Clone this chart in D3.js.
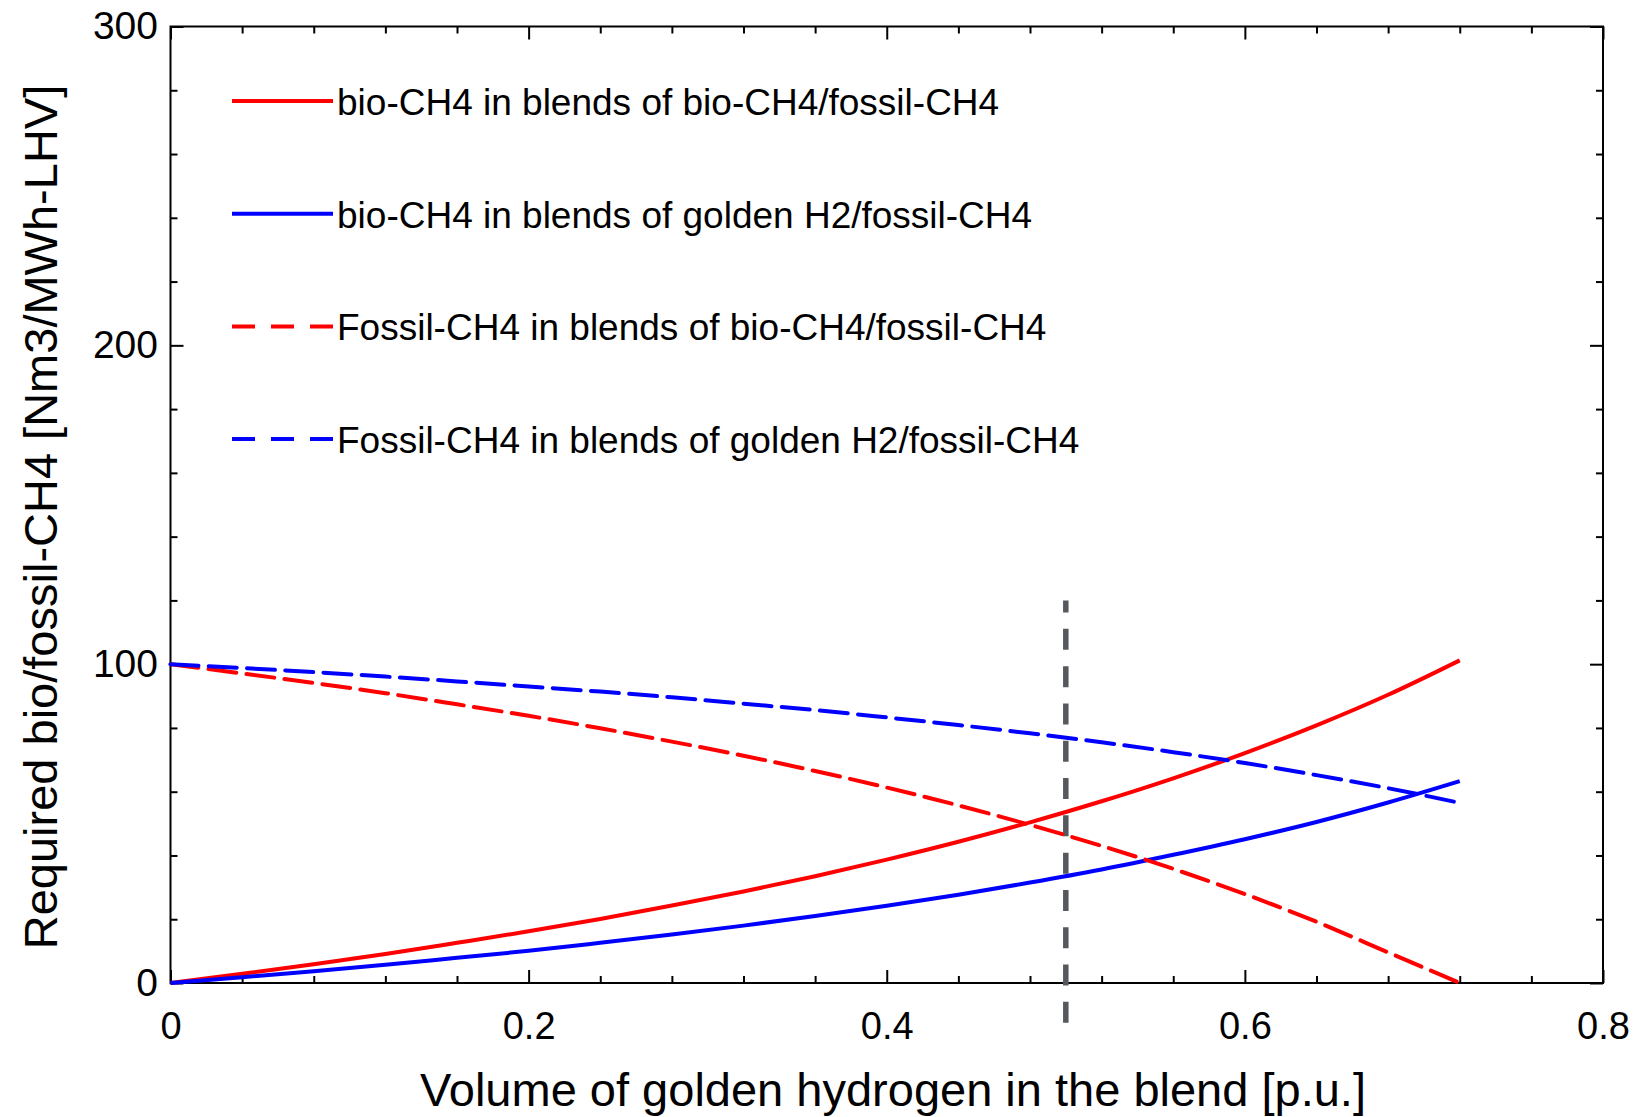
<!DOCTYPE html>
<html>
<head>
<meta charset="utf-8">
<script src="https://cdn.jsdelivr.net/npm/d3@7"></script>
<style>
  body { margin: 0; background: #fff; }
  text { font-family: "Liberation Sans", Arial, sans-serif; fill: #000; }
</style>
</head>
<body>
<div id="vis"></div>
<script>
// frame dimensions
const FRAME_WIDTH = 1640;
const FRAME_HEIGHT = 1117;
const MARGINS = {left: 170.5, right: 37, top: 26.5, bottom: 134};

// data
const xValues = [0, 0.04, 0.08, 0.12, 0.16, 0.20, 0.24, 0.28, 0.32, 0.36,
                 0.40, 0.44, 0.48, 0.52, 0.56, 0.60, 0.64, 0.68, 0.72];
const bioInBio = [0, 2.9, 5.9, 9.1, 12.6, 16.2, 20.1, 24.3, 28.7, 33.5,
                  38.7, 44.3, 50.4, 57.0, 64.2, 72.1, 80.8, 90.4, 101.2];
const bioInH2 = [0, 1.8, 3.7, 5.7, 7.9, 10.1, 12.6, 15.2, 18.0, 21.0,
                 24.2, 27.7, 31.5, 35.6, 40.2, 45.1, 50.5, 56.6, 63.3];
const fossilInBio = [100, 97.1, 94.1, 90.9, 87.4, 83.8, 79.9, 75.7, 71.3, 66.5,
                     61.3, 55.7, 49.6, 43.0, 35.8, 27.9, 19.2, 9.6, 0];
const fossilInH2 = [100, 98.8, 97.5, 96.1, 94.6, 93.0, 91.4, 89.6, 87.6, 85.6,
                    83.3, 80.9, 78.3, 75.5, 72.4, 69.0, 65.2, 61.1, 56.5];

const seriesNames = [
  "bio-CH4 in blends of bio-CH4/fossil-CH4",
  "bio-CH4 in blends of golden H2/fossil-CH4",
  "Fossil-CH4 in blends of bio-CH4/fossil-CH4",
  "Fossil-CH4 in blends of golden H2/fossil-CH4"
];
const seriesValues = [bioInBio, bioInH2, fossilInBio, fossilInH2];

// reference line at 50 % hydrogen
const refX = 0.5;
const refY = [-12.5, 120];

// ticks
const xMajor = [0, 0.2, 0.4, 0.6, 0.8];
const xMinor = [0.04, 0.08, 0.12, 0.16, 0.24, 0.28, 0.32, 0.36, 0.44, 0.48,
                0.52, 0.56, 0.64, 0.68, 0.72, 0.76];
const yMajor = [0, 100, 200, 300];
const yMinor = [20, 40, 60, 80, 120, 140, 160, 180, 220, 240, 260, 280];

// styles
const COLORS = ["#ff0000", "#0000ff", "#ff0000", "#0000ff"];
const DASHES = [null, null, "28,10.3", "28,10.3"];

const VIS_WIDTH = FRAME_WIDTH - MARGINS.left - MARGINS.right;
const VIS_HEIGHT = FRAME_HEIGHT - MARGINS.top - MARGINS.bottom;

const svg = d3.select("#vis")
  .append("svg")
    .attr("width", FRAME_WIDTH)
    .attr("height", FRAME_HEIGHT);

const X_SCALE = d3.scaleLinear().domain([0, 0.8])
                  .range([MARGINS.left, MARGINS.left + VIS_WIDTH]);
const Y_SCALE = d3.scaleLinear().domain([0, 300])
                  .range([MARGINS.top + VIS_HEIGHT, MARGINS.top]);

// axes: ticks inside on all four sides
function drawAxis(axis, tx, ty) {
  const g = svg.append("g")
    .attr("transform", "translate(" + tx + "," + ty + ")")
    .call(axis);
  g.select(".domain").remove();
  g.selectAll("line").attr("stroke", "#000").attr("stroke-width", 2);
  return g;
}

const bottomY = MARGINS.top + VIS_HEIGHT;
const rightX = MARGINS.left + VIS_WIDTH;

// bottom
drawAxis(d3.axisBottom(X_SCALE).tickValues(xMajor).tickSizeInner(-13)
  .tickSizeOuter(0).tickPadding(29).tickFormat(d3.format("")), 0, bottomY)
  .selectAll("text").attr("font-size", "38px");
drawAxis(d3.axisBottom(X_SCALE).tickValues(xMinor).tickSizeInner(-7)
  .tickSizeOuter(0).tickFormat(""), 0, bottomY);
// top
drawAxis(d3.axisTop(X_SCALE).tickValues(xMajor).tickSizeInner(-13)
  .tickSizeOuter(0).tickFormat(""), 0, MARGINS.top);
drawAxis(d3.axisTop(X_SCALE).tickValues(xMinor).tickSizeInner(-7)
  .tickSizeOuter(0).tickFormat(""), 0, MARGINS.top);
// left
drawAxis(d3.axisLeft(Y_SCALE).tickValues(yMajor).tickSizeInner(-13)
  .tickSizeOuter(0).tickPadding(12.5), MARGINS.left, 0)
  .selectAll("text").attr("font-size", "39px");
drawAxis(d3.axisLeft(Y_SCALE).tickValues(yMinor).tickSizeInner(-7)
  .tickSizeOuter(0).tickFormat(""), MARGINS.left, 0);
// right
drawAxis(d3.axisRight(Y_SCALE).tickValues(yMajor).tickSizeInner(-13)
  .tickSizeOuter(0).tickFormat(""), rightX, 0);
drawAxis(d3.axisRight(Y_SCALE).tickValues(yMinor).tickSizeInner(-7)
  .tickSizeOuter(0).tickFormat(""), rightX, 0);

svg.selectAll(".tick text").attr("font-family", "Liberation Sans, Arial, sans-serif")
  .attr("fill", "#000");

// frame
svg.append("rect")
  .attr("x", MARGINS.left).attr("y", MARGINS.top)
  .attr("width", VIS_WIDTH).attr("height", VIS_HEIGHT)
  .attr("fill", "none").attr("stroke", "#000").attr("stroke-width", 2);

// reference line
svg.append("line")
  .attr("x1", X_SCALE(refX)).attr("x2", X_SCALE(refX))
  .attr("y1", Y_SCALE(refY[0])).attr("y2", Y_SCALE(refY[1]))
  .attr("stroke", "#55585c").attr("stroke-width", 5.5)
  .attr("stroke-dasharray", "21,16.3");

// curves
const line = d3.line()
  .x((d, i) => X_SCALE(xValues[i]))
  .y(d => Y_SCALE(d))
  .curve(d3.curveMonotoneX);

svg.selectAll(".curve")
  .data(seriesValues)
  .enter()
  .append("path")
    .attr("class", "curve")
    .attr("d", d => line(d))
    .attr("fill", "none")
    .attr("stroke", (d, i) => COLORS[i])
    .attr("stroke-width", 4)
    .attr("stroke-linecap", (d, i) => DASHES[i] ? "round" : "butt")
    .attr("stroke-dasharray", (d, i) => DASHES[i]);

// legend
const LEGEND = {x1: 232, x2: 333, y0: 101, step: 112.7};
const legend = svg.selectAll(".legend")
  .data(seriesNames)
  .enter()
  .append("g")
    .attr("class", "legend")
    .attr("transform", (d, i) => "translate(0," + (LEGEND.y0 + i * LEGEND.step) + ")");

legend.append("line")
  .attr("x1", LEGEND.x1).attr("x2", LEGEND.x2)
  .attr("stroke", (d, i) => COLORS[i])
  .attr("stroke-width", 4)
  .attr("stroke-dasharray", (d, i) => DASHES[i] ? "23,16" : null);

legend.append("text")
  .attr("x", 337).attr("y", 14)
  .attr("font-size", "37px")
  .text(d => d);

// axis titles
svg.append("text")
  .attr("x", 893).attr("y", 1106)
  .attr("text-anchor", "middle")
  .attr("font-size", "47px")
  .text("Volume of golden hydrogen in the blend [p.u.]");

svg.append("text")
  .attr("transform", "translate(57,517) rotate(-90)")
  .attr("text-anchor", "middle")
  .attr("font-size", "47px")
  .text("Required bio/fossil-CH4 [Nm3/MWh-LHV]");
</script>
</body>
</html>
